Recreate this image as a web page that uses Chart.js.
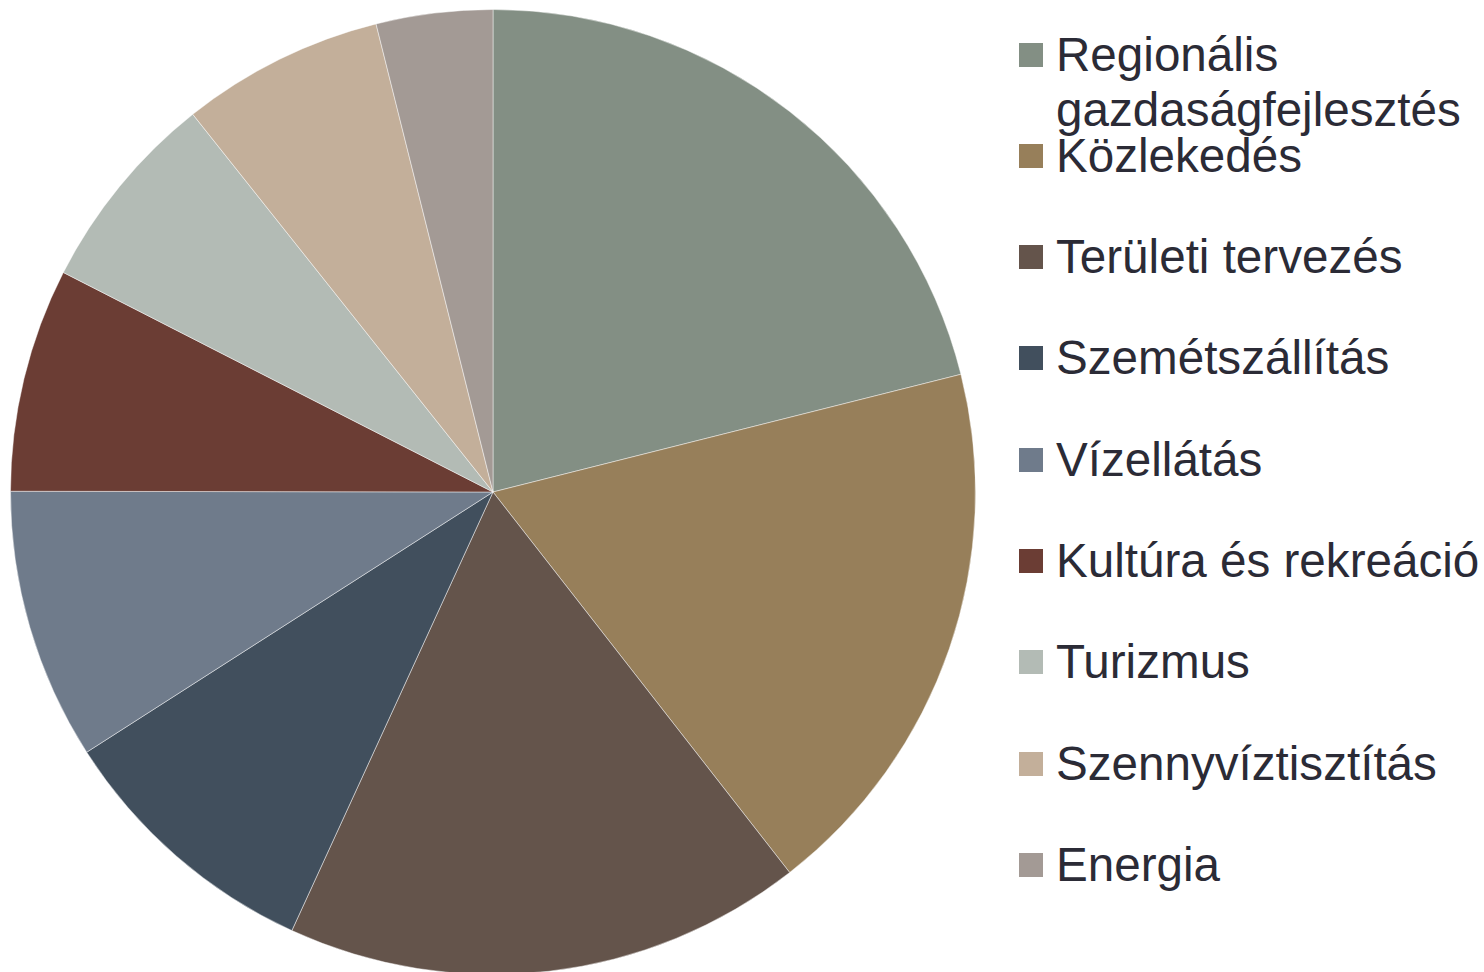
<!DOCTYPE html>
<html>
<head>
<meta charset="utf-8">
<script src="https://cdn.jsdelivr.net/npm/chart.js@4"></script>
<style>
  html, body { margin: 0; padding: 0; background: #fff; overflow: hidden; }
  body { width: 1484px; height: 972px; position: relative; }
  #pieWrap { position: absolute; left: 10px; top: 9px; width: 966px; height: 966px; }
  #legend { position: absolute; left: 1019px; top: 0; font-family: "Liberation Sans", Arial, sans-serif; font-size: 47.6px; color: #2b2b36; }
  .item { position: absolute; left: 0; white-space: nowrap; }
  .box { position: absolute; left: 0; width: 24px; height: 24px; }
  .txt { position: absolute; left: 37px; line-height: 55px; }
</style>
</head>
<body>
<div id="pieWrap"><canvas id="pie" width="966" height="966"></canvas></div>
<div id="legend"></div>
<script>
// categories (legend labels), one line per array entry
const labels = [
  ["Regionális", "gazdaságfejlesztés"],
  ["Közlekedés"],
  ["Területi tervezés"],
  ["Szemétszállítás"],
  ["Vízellátás"],
  ["Kultúra és rekreáció"],
  ["Turizmus"],
  ["Szennyvíztisztítás"],
  ["Energia"]
];
// share of each category (%)
const shares = [21.1, 18.4, 17.4, 9.1, 9.1, 7.5, 6.8, 6.8, 3.9];
const colors = ["#838f84", "#977f5a", "#64544b", "#414f5d", "#6f7b8b", "#6b3d34", "#b3bbb5", "#c3af9a", "#a39a95"];

new Chart(document.getElementById("pie"), {
  type: "pie",
  data: {
    labels: labels.map(l => l.join(" ")),
    datasets: [{
      data: shares,
      backgroundColor: colors,
      borderColor: "rgba(255,255,255,0.45)",
      borderWidth: 1
    }]
  },
  options: {
    responsive: false,
    animation: false,
    layout: { padding: 0 },
    plugins: {
      legend: { display: false },
      tooltip: { enabled: false }
    }
  }
});

// legend on the right
const legendEl = document.getElementById("legend");
labels.forEach((lines, i) => {
  const cy = 54.5 + 101.3 * i;
  const item = document.createElement("div");
  item.className = "item";
  item.style.top = cy + "px";
  const box = document.createElement("div");
  box.className = "box";
  box.style.background = colors[i];
  box.style.top = "-12px";
  const txt = document.createElement("div");
  txt.className = "txt";
  txt.style.top = "-28px";
  txt.innerHTML = lines.join("<br>");
  item.appendChild(box);
  item.appendChild(txt);
  legendEl.appendChild(item);
});
</script>
</body>
</html>
